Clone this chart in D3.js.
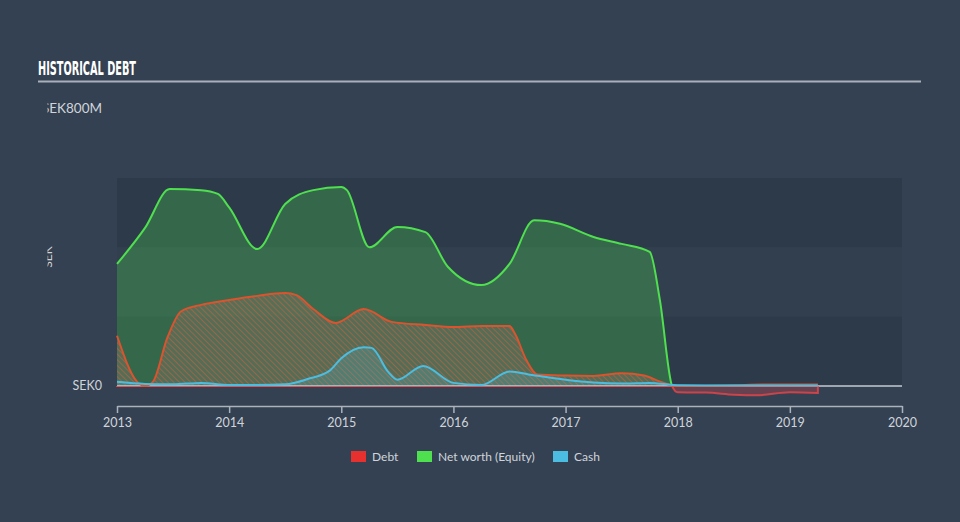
<!DOCTYPE html>
<html>
<head>
<meta charset="utf-8">
<script src="https://cdn.jsdelivr.net/npm/d3@7"></script>
<style>
  html, body { margin: 0; padding: 0; background: #344152; }
  svg { display: block; }
</style>
</head>
<body>
<svg id="chart" width="960" height="522"></svg>
<script>
// ---------- DATA ----------
const title = "HISTORICAL DEBT";
const yTickLabels = ["SEK0", "SEK800M"];
const yTickValues = [0, 800];
const xTickValues = [2013, 2014, 2015, 2016, 2017, 2018, 2019, 2020];
const xTickLabels = ["2013", "2014", "2015", "2016", "2017", "2018", "2019", "2020"];
const seriesNames = ["Debt", "Net worth (Equity)", "Cash"];

// Debt (SEK millions) at decimal-year dates
const debtDates  = [2013.0, 2013.18, 2013.25, 2013.32, 2013.45, 2013.57, 2013.75, 2014.0, 2014.25, 2014.5, 2014.6, 2014.75, 2014.95, 2015.2, 2015.45, 2015.75, 2016.0, 2016.25, 2016.5, 2016.55, 2016.65, 2016.75, 2017.0, 2017.25, 2017.5, 2017.7, 2017.85, 2017.97, 2018.25, 2018.5, 2018.75, 2019.0, 2019.25];
const debtValues = [145, 12, 0, 12, 140, 215, 234, 248, 260, 268, 262, 222, 182, 222, 185, 176, 170, 173, 173, 150, 75, 33, 30, 29, 37, 30, 12, 1, 1, 2, 4, 4, 4];

// Net worth (Equity)
const equityDates  = [2013.0, 2013.25, 2013.47, 2013.75, 2013.9, 2014.0, 2014.25, 2014.5, 2014.75, 2015.0, 2015.05, 2015.25, 2015.5, 2015.75, 2015.95, 2016.25, 2016.5, 2016.72, 2016.95, 2017.25, 2017.5, 2017.75, 2017.84, 2017.95, 2018.0, 2018.25, 2018.5, 2018.7, 2019.0, 2019.25];
const equityValues = [352, 456, 568, 565, 554, 515, 395, 525, 565, 574, 565, 400, 459, 444, 344, 291, 352, 478, 468, 430, 410, 387, 250, 0, -18, -19, -25, -27, -18, -20];

// Cash
const cashDates  = [2013.0, 2013.25, 2013.5, 2013.75, 2014.0, 2014.25, 2014.5, 2014.7, 2014.9, 2015.0, 2015.2, 2015.27, 2015.42, 2015.5, 2015.73, 2016.0, 2016.25, 2016.5, 2016.7, 2017.0, 2017.25, 2017.5, 2017.75, 2018.0, 2018.25, 2018.5, 2018.75, 2019.0, 2019.25];
const cashValues = [12, 6, 5, 9, 3, 3, 5, 20, 45, 80, 112, 110, 40, 18, 58, 9, 3, 42, 32, 18, 10, 7, 9, 2, 1.5, 1.5, 1.5, 1.5, 1.5];

// ---------- LAYOUT ----------
const svg = d3.select("#chart");
const W = 960, H = 522;
const plotLeft = 117, plotRight = 902;
const x = d3.scaleLinear().domain([2013, 2020]).range([plotLeft, plotRight]);
const y = d3.scaleLinear().domain([0, 800]).range([386, 108.67]);

const debtColor = "#dc532e";
const debtLegend = "#e8302f";
const eqColor = "#4fe04f";
const negColor = "#e8464a";
const cashColor = "#4bbde0";
const textColor = "#d0d4da";

svg.append("rect").attr("width", W).attr("height", H).attr("fill", "#344152");

// title
svg.append("text").attr("x", 38).attr("y", 75)
  .attr("font-family", "'Liberation Sans Narrow', 'DejaVu Sans Condensed', sans-serif")
  .attr("font-weight", "bold").attr("font-size", 20).attr("fill", "#ffffff")
  .attr("textLength", 98).attr("lengthAdjust", "spacingAndGlyphs")
  .text(title);
svg.append("line").attr("x1", 38).attr("x2", 921).attr("y1", 81.5).attr("y2", 81.5)
  .attr("stroke", "#a9b0b9").attr("stroke-width", 2);

// bands
const bands = [[600, 400, true], [400, 200, false], [200, 0, true]];
svg.append("g").selectAll("rect").data(bands).join("rect")
  .attr("x", plotLeft).attr("width", plotRight - plotLeft)
  .attr("y", d => y(d[0])).attr("height", d => y(d[1]) - y(d[0]))
  .attr("fill", d => d[2] ? "#2d3a4a" : "#323f4f");

// defs
const defs = svg.append("defs");
const pat = defs.append("pattern").attr("id", "hatch").attr("patternUnits", "userSpaceOnUse")
  .attr("width", 4).attr("height", 4).attr("patternTransform", "rotate(-45)");
pat.append("rect").attr("width", 4).attr("height", 4).attr("fill", "rgba(140,120,105,0.35)");
pat.append("line").attr("x1", 0).attr("y1", 0).attr("x2", 0).attr("y2", 4)
  .attr("stroke", "#c8603c").attr("stroke-width", 2).attr("stroke-opacity", 0.6);

defs.append("clipPath").attr("id", "above").append("rect")
  .attr("x", 0).attr("y", 0).attr("width", W).attr("height", y(0));
defs.append("clipPath").attr("id", "below").append("rect")
  .attr("x", 0).attr("y", y(0)).attr("width", W).attr("height", H - y(0));
defs.append("clipPath").attr("id", "ylab").append("rect")
  .attr("x", 47.5).attr("y", 0).attr("width", W).attr("height", H);

const zip = (ds, vs) => ds.map((d, i) => ({ t: d, v: vs[i] }));
const debt = zip(debtDates, debtValues);
const equity = zip(equityDates, equityValues);
const cash = zip(cashDates, cashValues);

const curve = d3.curveMonotoneX;
const area = d3.area().x(d => x(d.t)).y0(y(0)).y1(d => y(d.v)).curve(curve);
const line = d3.line().x(d => x(d.t)).y(d => y(d.v)).curve(curve);

// fills
svg.append("path").datum(equity).attr("d", area).attr("clip-path", "url(#above)")
  .attr("fill", eqColor).attr("fill-opacity", 0.27);
svg.append("path").datum(equity).attr("d", area).attr("clip-path", "url(#below)")
  .attr("fill", negColor).attr("fill-opacity", 0.28);
svg.append("path").datum(debt).attr("d", area).attr("fill", "url(#hatch)");
svg.append("path").datum(cash).attr("d", area).attr("fill", cashColor).attr("fill-opacity", 0.2);

// zero line
svg.append("line").attr("x1", plotLeft).attr("x2", plotRight).attr("y1", y(0)).attr("y2", y(0))
  .attr("stroke", "#c5cad0").attr("stroke-width", 1.5);

// negative equity outline
svg.append("path").datum(equity).attr("d", area).attr("clip-path", "url(#below)")
  .attr("fill", "none").attr("stroke", negColor).attr("stroke-width", 2).attr("stroke-opacity", 0.8);

// lines
svg.append("path").datum(debt).attr("d", line).attr("fill", "none")
  .attr("stroke", debtColor).attr("stroke-width", 2);
svg.append("path").datum(equity).attr("d", line).attr("fill", "none").attr("clip-path", "url(#above)")
  .attr("stroke", eqColor).attr("stroke-width", 2);
svg.append("path").datum(cash).attr("d", line).attr("fill", "none")
  .attr("stroke", cashColor).attr("stroke-width", 2);

// y labels
const yl = svg.append("g").attr("clip-path", "url(#ylab)");
yl.selectAll("text").data(yTickValues).join("text")
  .attr("x", 102).attr("y", d => y(d)).attr("dy", "0.35em")
  .attr("text-anchor", "end").attr("font-family", "Lato, sans-serif")
  .attr("font-size", d => d === 0 ? 12.5 : 13.5)
  .attr("fill", textColor).text((d, i) => yTickLabels[i]);
yl.append("text").attr("transform", "translate(51.5,257) rotate(-90)")
  .attr("text-anchor", "middle").attr("font-family", "Lato, sans-serif").attr("font-size", 12)
  .attr("fill", textColor).text("SEK");

// x axis
const xAxis = d3.axisBottom(x).tickValues(xTickValues).tickFormat((d, i) => xTickLabels[i]).tickSize(7).tickSizeOuter(0);
const gx = svg.append("g").attr("transform", "translate(0,406)").call(xAxis);
gx.select(".domain").attr("stroke", "#aab2bc").attr("stroke-width", 1.5);
gx.selectAll(".tick line").attr("stroke", "#aab2bc").attr("stroke-width", 1.5);
gx.selectAll(".tick text").attr("fill", textColor).attr("font-family", "Lato, sans-serif")
  .attr("font-size", 12.5).attr("dy", "0.9em");

// legend
const legendColors = [debtLegend, eqColor, cashColor];
const legendX = [351, 417, 553];
const lg = svg.append("g").selectAll("g").data(seriesNames).join("g")
  .attr("transform", (d, i) => `translate(${legendX[i]},451)`);
lg.append("rect").attr("width", 15).attr("height", 11).attr("fill", (d, i) => legendColors[i]);
lg.append("text").attr("x", 21).attr("y", 5.5).attr("dy", "0.35em")
  .attr("font-family", "Lato, sans-serif").attr("font-size", 12).attr("fill", textColor)
  .text(d => d);
</script>
</body>
</html>
